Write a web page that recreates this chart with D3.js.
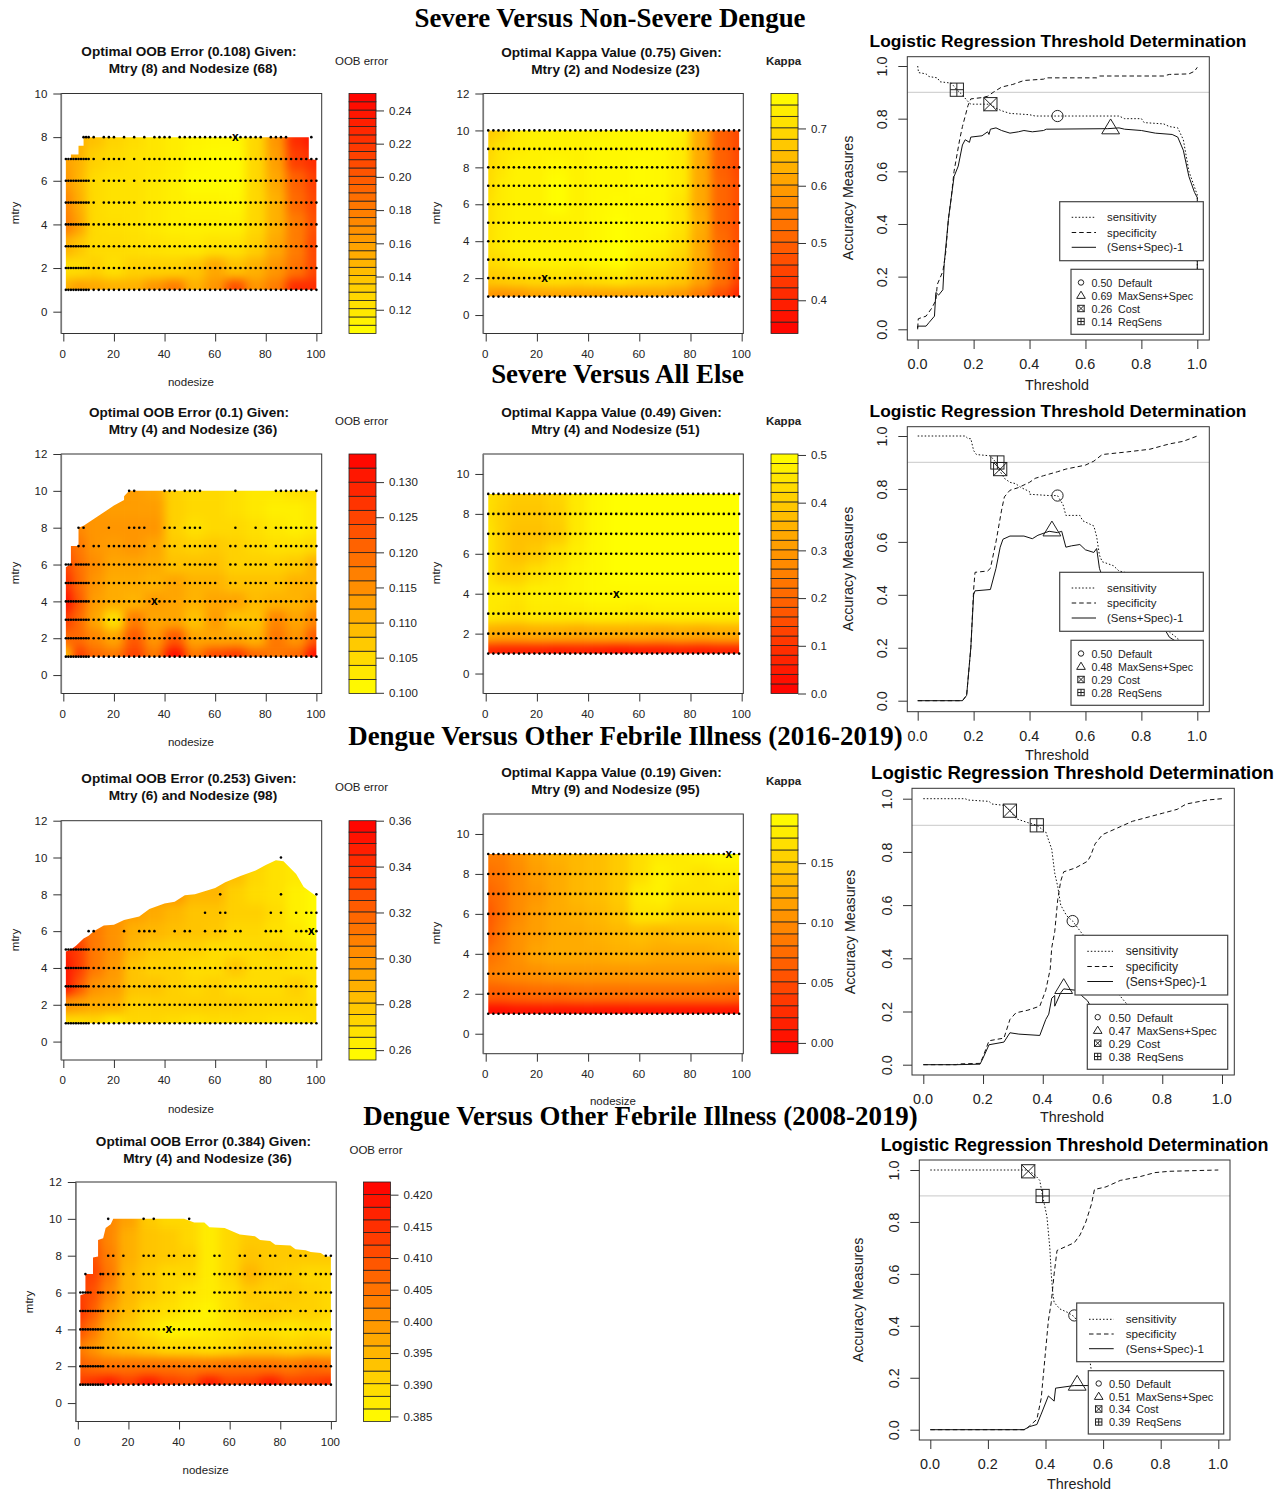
<!DOCTYPE html>
<html lang="en">
<head>
<meta charset="UTF-8">
<title>Threshold and tuning panels</title>
<script src="https://d3js.org/d3.v7.min.js"></script>
<style>
  html, body { margin: 0; padding: 0; background: #fff; }
  svg { display: block; }
  text { font-family: "Liberation Sans", Arial, sans-serif; fill: #222; }
  .heading { font-family: "Liberation Serif", "Times New Roman", serif; font-weight: bold; fill: #000; }
</style>
</head>
<body>
<div id="chart"></div>
<script>
// ---- data ----
// grid rows run from the highest mtry down to mtry 1
var knots = [1, 6, 12, 20, 28, 36, 44, 52, 60, 68, 76, 84, 92, 100];
var nodeAll = [1,2,3,4,5,6,7,8,9,10,12,14,16,18,20,22,24,26,28,30,32,34,36,38,40,42,44,46,48,50,52,54,56,58,60,62,64,66,68,70,72,74,76,78,80,82,84,86,88,90,92,94,96,98,100];
var nodeOdd = [1,3,5,7,9,11,13,15,17,19,21,23,25,27,29,31,33,35,37,39,41,43,45,47,49,51,53,55,57,59,61,63,65,67,69,71,73,75,77,79,81,83,85,87,89,91,93,95,97,99];
function without(list) { return nodeAll.filter(function(d) { return list.indexOf(d) < 0; }); }

var oobSevere = [
  [.150,.150,.140,.130,.125,.120,.116,.112,.110,.110,.128,.165,.225,.240],
  [.160,.150,.132,.126,.122,.120,.116,.110,.108,.108,.128,.160,.215,.225],
  [.165,.148,.126,.122,.122,.118,.115,.108,.108,.108,.128,.155,.195,.215],
  [.175,.152,.126,.122,.122,.118,.115,.112,.112,.110,.128,.150,.190,.210],
  [.180,.158,.126,.124,.122,.118,.115,.114,.114,.114,.128,.150,.180,.205],
  [.150,.138,.126,.126,.124,.122,.120,.118,.122,.122,.133,.155,.180,.210],
  [.125,.126,.132,.124,.132,.132,.132,.138,.155,.140,.150,.165,.185,.210],
  [.150,.160,.155,.150,.150,.165,.180,.150,.165,.205,.165,.180,.225,.225]];
var oobSevereEdge = [[1,1],[1,6.95],[3,6.95],[3,7.2],[6,7.2],[6,7.6],[8,7.6],[8,8],[97,8],[97,7],[100,6.95],[100,1]];
var oobSevereDots = [[8,9,10,12,16,18,20,24,28,32,36,38,40,42,46,48,50,52,54,56,58,60,62,64,66,68,70,72,74,76,78,82,84,86,88,98],
  without([14,26,30]), without([14,26,30]), without([14,30]), nodeAll, nodeAll, nodeAll, nodeAll];

var kappaSevere = [
  [.67,.69,.73,.74,.74,.74,.74,.75,.75,.75,.74,.62,.50,.46],
  [.69,.72,.73,.74,.74,.74,.75,.75,.75,.75,.73,.62,.50,.46],
  [.70,.72,.74,.74,.75,.74,.75,.75,.755,.75,.73,.62,.50,.46],
  [.70,.73,.74,.74,.76,.74,.75,.75,.755,.75,.73,.62,.51,.47],
  [.71,.73,.74,.74,.76,.74,.75,.755,.75,.75,.72,.62,.51,.47],
  [.71,.73,.74,.74,.74,.74,.75,.76,.75,.75,.72,.63,.51,.47],
  [.71,.73,.74,.74,.74,.74,.75,.76,.75,.74,.71,.62,.52,.47],
  [.70,.71,.73,.74,.74,.74,.75,.76,.73,.72,.69,.62,.53,.47],
  [.67,.68,.69,.70,.71,.70,.71,.72,.70,.69,.67,.61,.53,.45],
  [.59,.58,.59,.61,.61,.61,.61,.61,.61,.61,.59,.54,.47,.40]];

var oobAll = [
  [.114,.114,.114,.114,.113,.112,.106,.105,.105,.104,.103,.103,.104,.104],
  [.116,.116,.114,.113,.113,.113,.106,.105,.105,.104,.103,.102,.102,.103],
  [.118,.116,.114,.114,.114,.114,.106,.104,.105,.105,.104,.103,.102,.103],
  [.122,.118,.114,.113,.114,.112,.107,.106,.107,.106,.105,.104,.104,.105],
  [.125,.119,.115,.112,.112,.111,.108,.108,.108,.106,.106,.106,.107,.110],
  [.128,.120,.114,.111,.111,.110,.112,.110,.110,.108,.108,.108,.110,.110],
  [.132,.122,.113,.111,.110,.113,.112,.110,.112,.112,.109,.110,.110,.112],
  [.126,.120,.112,.104,.117,.112,.112,.108,.113,.108,.108,.116,.112,.116],
  [.120,.120,.116,.112,.122,.114,.122,.112,.112,.112,.110,.118,.114,.122],
  [.108,.126,.120,.118,.125,.118,.132,.118,.124,.126,.120,.118,.120,.132]];
var oobAllEdge = [[1,1],[1,5.85],[2,5.95],[3,6],[3,7],[6,7],[6,8],[8,8.1],[20,9.2],[24,9.5],[24,9.7],[26,10],[100,10],[100,1]];
var oobAllDots = [[26,28,40,42,44,48,50,52,54,68,84,86,88,90,92,94,96,100], [],
  [6,8,18,26,28,30,32,40,42,44,48,50,52,54,68,76,80,84,86,88,90,92,94,96,98,100],
  [6,8,12,14,18,20,22,24,26,28,30,32,36,40,42,44,48,50,52,54,56,58,60,66,68,72,74,76,78,80,84,86,88,90,92,94,96,98,100],
  without([4,46,62,64,70,82]), without([46,62,64,70,82]), without([46,70]), nodeAll, nodeAll, nodeAll];

var kappaAll = [
  [.44,.42,.40,.40,.42,.46,.49,.50,.50,.50,.50,.50,.50,.50],
  [.44,.41,.39,.39,.41,.46,.49,.50,.50,.50,.50,.50,.50,.50],
  [.45,.41,.38,.38,.40,.46,.49,.50,.50,.50,.50,.50,.50,.50],
  [.45,.41,.38,.40,.44,.47,.49,.50,.50,.50,.50,.50,.50,.50],
  [.45,.41,.41,.44,.46,.48,.49,.50,.50,.50,.50,.50,.50,.50],
  [.46,.46,.45,.47,.47,.48,.49,.49,.49,.49,.49,.49,.49,.49],
  [.46,.45,.44,.46,.46,.46,.47,.47,.46,.47,.47,.47,.47,.47],
  [.34,.33,.33,.34,.34,.33,.34,.34,.34,.33,.34,.33,.34,.34],
  [.07,.06,.06,.06,.05,.06,.05,.04,.05,.05,.06,.05,.06,.06]];

var oobFebrile16 = [
  [.290,.290,.290,.295,.290,.290,.290,.285,.285,.282,.275,.268,.265,.265],
  [.290,.290,.295,.295,.295,.292,.292,.288,.288,.282,.272,.268,.265,.262],
  [.300,.300,.300,.300,.300,.298,.298,.285,.285,.275,.270,.268,.262,.258],
  [.310,.310,.305,.300,.295,.290,.285,.280,.280,.275,.275,.270,.262,.258],
  [.330,.325,.310,.300,.288,.285,.282,.280,.278,.272,.272,.268,.265,.258],
  [.345,.335,.310,.300,.285,.278,.275,.275,.270,.270,.270,.272,.268,.265],
  [.352,.335,.310,.298,.280,.275,.275,.270,.270,.278,.270,.270,.268,.268],
  [.352,.325,.300,.295,.280,.280,.275,.272,.275,.270,.270,.270,.275,.268],
  [.300,.295,.290,.288,.275,.275,.275,.275,.275,.275,.272,.272,.272,.270],
  [.270,.270,.272,.265,.272,.272,.270,.268,.270,.270,.270,.268,.268,.270]];
var oobFebrile16Edge = [[1,1],[1,4.9],[3,5],[5,5.2],[8,5.6],[10,5.75],[12,6],[16,6.3],[20,6.35],[24,6.6],[30,6.8],[34,7.2],[40,7.5],[44,7.6],[48,7.95],[52,8],[60,8.35],[64,8.65],[70,9],[76,9.3],[80,9.6],[84,9.85],[87,9.8],[92,9.1],[95,8.4],[100,7.9],[100,1]];
var oobFebrile16Dots = [[86], [], [62,86,100], [56,62,64,82,86,92,96,98,100],
  [10,12,24,30,32,34,36,44,48,50,56,60,62,64,68,70,80,82,84,86,92,94,96,98,100],
  nodeAll, nodeAll, nodeAll, nodeAll, nodeAll];

var kappaFebrile16 = [
  [.090,.090,.105,.120,.130,.135,.140,.150,.165,.175,.175,.180,.185,.185],
  [.080,.085,.100,.115,.125,.135,.140,.150,.165,.180,.175,.170,.175,.175],
  [.070,.080,.100,.110,.125,.135,.140,.150,.175,.180,.170,.170,.170,.165],
  [.060,.080,.100,.115,.125,.130,.135,.145,.170,.170,.160,.160,.160,.165],
  [.065,.085,.105,.115,.125,.125,.130,.135,.140,.135,.140,.140,.140,.150],
  [.080,.090,.105,.120,.125,.125,.125,.130,.130,.125,.125,.125,.130,.135],
  [.090,.095,.100,.105,.110,.110,.110,.110,.110,.110,.110,.110,.105,.105],
  [.065,.065,.070,.075,.075,.080,.080,.080,.080,.080,.080,.080,.080,.075],
  [.000,.000,.005,.005,.005,.005,.005,.005,.005,.005,.005,.005,.005,.005]];

var oobFebrile08 = [
  [.405,.405,.402,.398,.392,.390,.390,.387,.390,.392,.392,.392,.392,.392],
  [.410,.408,.402,.396,.393,.392,.390,.387,.390,.392,.392,.392,.392,.392],
  [.412,.410,.403,.396,.393,.392,.391,.387,.390,.393,.392,.392,.392,.392],
  [.413,.412,.404,.395,.392,.390,.390,.387,.390,.395,.392,.391,.390,.390],
  [.413,.410,.402,.395,.392,.390,.388,.387,.389,.392,.391,.392,.391,.390],
  [.414,.408,.399,.394,.390,.389,.387,.386,.389,.391,.392,.391,.391,.390],
  [.410,.404,.396,.392,.389,.386,.386,.387,.388,.389,.389,.388,.389,.388],
  [.404,.400,.396,.394,.392,.390,.390,.389,.390,.392,.392,.391,.392,.392],
  [.408,.406,.405,.405,.405,.405,.404,.404,.405,.405,.405,.404,.406,.405],
  [.413,.415,.418,.413,.418,.413,.411,.418,.412,.413,.418,.412,.413,.415]];
var oobFebrile08Edge = [[1,1],[1,5.85],[3,5.95],[3,7],[6,7],[6,7.9],[8,7.95],[8,8.85],[10,8.95],[11,9.5],[13,9.7],[14,10],[42,10],[46,9.8],[50,9.8],[52,9.55],[58,9.5],[64,9.15],[70,9.05],[72,8.85],[76,8.8],[78,8.6],[84,8.55],[86,8.35],[90,8.3],[92,8.2],[96,8.15],[98,7.95],[100,7.95],[100,1]];
var oobFebrile08Dots = [[12,26,30,44], [], [12,14,18,26,28,30,36,38,42,44,46,54,56,64,66,72,76,78,84,88,90,98,100],
  [3,9,10,12,14,16,18,22,26,28,30,34,36,38,42,44,46,54,56,58,60,62,64,66,70,72,74,76,78,80,82,84,88,90,94,96,98,100],
  without([6,7,20,32,40,48,50,52,68,86,92]), without([20,34,50,86,92]), nodeAll, nodeAll, nodeAll, nodeAll];

// threshold curves as [threshold, value]
var sens1 = [[0,1],[.003,.975],[.03,.97],[.04,.96],[.07,.955],[.08,.94],[.12,.935],[.14,.91],[.155,.895],[.18,.865],[.19,.855],[.26,.855],[.28,.84],[.3,.83],[.33,.82],[.4,.815],[.42,.81],[.72,.81],[.74,.8],[.8,.8],[.81,.785],[.88,.78],[.9,.77],[.93,.765],[.95,.72],[.97,.6],[.99,.54],[1,.51],[1,0]];
var spec1 = [[0,.005],[.002,.04],[.03,.05],[.05,.08],[.065,.11],[.07,.17],[.09,.22],[.1,.29],[.11,.42],[.12,.5],[.13,.6],[.15,.72],[.16,.77],[.18,.85],[.19,.875],[.23,.88],[.25,.885],[.27,.9],[.3,.92],[.34,.93],[.38,.945],[.45,.95],[.46,.955],[.64,.955],[.65,.962],[.88,.962],[.9,.968],[.97,.97],[.99,.98],[1,.995]];
var youd1 = [[0,0],[0,.012],[.03,.012],[.04,.025],[.06,.05],[.065,.14],[.075,.13],[.09,.15],[.095,.25],[.11,.42],[.12,.5],[.13,.58],[.145,.62],[.16,.7],[.17,.72],[.185,.71],[.19,.73],[.23,.735],[.25,.75],[.255,.74],[.26,.76],[.28,.765],[.3,.755],[.33,.745],[.36,.75],[.38,.755],[.41,.75],[.45,.755],[.46,.76],[.68,.762],[.72,.765],[.74,.76],[.8,.755],[.85,.745],[.91,.74],[.93,.73],[.95,.68],[.97,.58],[.99,.52],[1,.5],[1,0]];
var marks1 = [[.5,.81],[.69,.765],[.26,.855],[.14,.91]];
var cuts1 = ["0.50","0.69","0.26","0.14"];

var sens2 = [[0,1],[.17,1],[.18,.99],[.19,.99],[.2,.945],[.21,.93],[.26,.925],[.28,.9],[.29,.875],[.31,.84],[.33,.825],[.35,.82],[.37,.805],[.4,.79],[.4,.78],[.47,.775],[.5,.775],[.52,.74],[.53,.7],[.58,.7],[.59,.68],[.63,.66],[.64,.62],[.65,.55],[.66,.525],[.7,.51],[.72,.49],[.76,.48],[.8,.44],[.85,.36],[.9,.26],[.93,.235],[1,0]];
var spec2 = [[0,0],[.16,0],[.175,.02],[.19,.2],[.2,.42],[.205,.485],[.25,.49],[.26,.5],[.28,.6],[.3,.72],[.31,.77],[.33,.795],[.36,.805],[.4,.825],[.42,.84],[.45,.85],[.5,.865],[.53,.875],[.6,.89],[.63,.905],[.66,.93],[.75,.94],[.83,.95],[.9,.97],[.95,.98],[1,1]];
var youd2 = [[0,0],[.16,0],[.175,.02],[.19,.2],[.2,.4],[.205,.415],[.26,.42],[.28,.5],[.295,.58],[.305,.61],[.33,.622],[.38,.622],[.41,.612],[.43,.625],[.47,.64],[.5,.635],[.515,.64],[.53,.58],[.55,.585],[.58,.59],[.6,.57],[.63,.56],[.64,.575],[.65,.5],[.66,.47],[.7,.45],[.75,.43],[.85,.33],[.9,.24],[.93,.22],[1,0]];
var marks2 = [[.5,.775],[.48,.645],[.295,.875],[.285,.9]];
var cuts2 = ["0.50","0.48","0.29","0.28"];

var sens3 = [[0,1],[.14,1],[.15,.995],[.22,.99],[.23,.98],[.27,.975],[.29,.955],[.31,.925],[.35,.91],[.38,.9],[.41,.875],[.43,.81],[.44,.72],[.45,.67],[.46,.6],[.48,.56],[.5,.54],[.53,.495],[.55,.47],[.6,.38],[.65,.27],[.68,.23],[.7,.19],[.8,.1],[1,0]];
var spec3 = [[0,0],[.11,0],[.12,.003],[.19,.005],[.2,.03],[.22,.09],[.27,.1],[.29,.17],[.31,.195],[.35,.205],[.39,.22],[.41,.28],[.425,.36],[.43,.44],[.44,.5],[.45,.62],[.46,.69],[.47,.725],[.51,.74],[.55,.765],[.56,.785],[.575,.83],[.6,.865],[.65,.89],[.7,.915],[.8,.945],[.85,.96],[.88,.98],[.95,.995],[1,1]];
var youd3 = [[0,0],[.11,0],[.19,.002],[.2,.025],[.22,.075],[.27,.085],[.29,.12],[.32,.115],[.39,.11],[.41,.17],[.42,.19],[.43,.25],[.44,.26],[.44,.22],[.46,.27],[.47,.285],[.51,.28],[.53,.26],[.55,.24],[.56,.22],[.65,.1],[.7,.05],[.8,.03],[1,0]];
var marks3 = [[.5,.54],[.47,.29],[.29,.955],[.38,.9]];
var cuts3 = ["0.50","0.47","0.29","0.38"];

var sens4 = [[0,1],[.33,1],[.36,.985],[.38,.96],[.39,.9],[.405,.82],[.415,.7],[.42,.6],[.425,.53],[.43,.49],[.45,.465],[.48,.45],[.5,.435],[.52,.4],[.55,.3],[.56,.22],[.58,.18],[.65,.1],[.8,.03],[1,0]];
var spec4 = [[0,0],[.33,0],[.345,.015],[.37,.04],[.385,.12],[.4,.3],[.41,.42],[.42,.49],[.43,.6],[.44,.69],[.5,.72],[.52,.75],[.54,.8],[.56,.87],[.57,.925],[.61,.935],[.66,.96],[.73,.975],[.78,.99],[.83,.995],[1,1]];
var youd4 = [[0,0],[.325,0],[.345,.012],[.37,.02],[.385,.06],[.41,.13],[.43,.11],[.435,.16],[.5,.17],[.56,.17],[.7,.1],[1,0]];
var marks4 = [[.5,.44],[.51,.175],[.34,.995],[.39,.9]];
var cuts4 = ["0.50","0.51","0.34","0.39"];

var cutNames = ["Default", "MaxSens+Spec", "Cost", "ReqSens"];
var curveNames = ["sensitivity", "specificity", "(Sens+Spec)-1"];
var headings = ["Severe Versus Non-Severe Dengue", "Severe Versus All Else", "Dengue Versus Other Febrile Illness (2016-2019)", "Dengue Versus Other Febrile Illness (2008-2019)"];
var nodeTicks = [0, 20, 40, 60, 80, 100];
var accTicks = [0, .2, .4, .6, .8, 1];

// ---- page ----
var svg = d3.select("#chart").append("svg").attr("width", 1286).attr("height", 1491);

svg.append("defs").append("filter").attr("id", "soften")
    .attr("filterUnits", "userSpaceOnUse")
    .attr("x", 0).attr("y", 0).attr("width", 1286).attr("height", 1491)
    .attr("color-interpolation-filters", "sRGB")
  .append("feGaussianBlur").attr("stdDeviation", "5 5");

var heatColor = d3.interpolateRgb("#ffff00", "#ff0000");
var clipCount = 0;

function heatPanel(p) {
  var x = d3.scaleLinear().domain(p.xDomain).range([p.left, p.right]);
  var y = d3.scaleLinear().domain(p.yDomain).range([p.bottom, p.top]);
  var g = svg.append("g");

  // red = worst, so kappa runs the other way round to OOB error
  var colorT = d3.scaleLinear().domain(p.goodLow ? p.legend : [p.legend[1], p.legend[0]]).range([0, 1]).clamp(true);

  clipCount++;
  var clipId = "edge" + clipCount;
  svg.select("defs").append("clipPath").attr("id", clipId)
    .append("polygon")
    .attr("points", p.edge.map(function(d) { return x(d[0]) + "," + y(d[1]); }).join(" "));

  var cells = [];
  p.values.forEach(function(row, r) {
    var m = p.values.length - r;
    row.forEach(function(v, c) {
      cells.push({
        x0: c == 0 ? knots[0] - 30 : (knots[c - 1] + knots[c]) / 2,
        x1: c == knots.length - 1 ? knots[c] + 30 : (knots[c] + knots[c + 1]) / 2,
        y0: m == 1 ? -2 : m - .5,
        y1: r == 0 ? m + 3 : m + .5,
        v: v
      });
    });
  });

  g.append("g").attr("clip-path", "url(#" + clipId + ")")
    .append("g").attr("filter", "url(#soften)")
    .selectAll("rect").data(cells).enter().append("rect")
      .attr("x", function(d) { return x(d.x0); })
      .attr("y", function(d) { return y(d.y1); })
      .attr("width", function(d) { return x(d.x1) - x(d.x0) + .5; })
      .attr("height", function(d) { return y(d.y0) - y(d.y1) + .5; })
      .attr("fill", function(d) { return heatColor(colorT(d.v)); });

  // sampled grid points
  p.dots.forEach(function(list, r) {
    var m = p.dots.length - r;
    g.append("g").selectAll("circle").data(list).enter().append("circle")
      .attr("cx", function(d) { return x(d); })
      .attr("cy", y(m))
      .attr("r", 1.3)
      .attr("fill", "#000");
  });

  g.append("text").attr("x", x(p.best[0])).attr("y", y(p.best[1]) + 4)
    .attr("text-anchor", "middle").style("font-size", "12px").style("font-weight", "bold").style("fill", "#000").text("x");

  // frame and axes
  g.append("rect").attr("x", p.left).attr("y", p.top).attr("width", p.right - p.left).attr("height", p.bottom - p.top)
    .attr("fill", "none").attr("stroke", "#333");
  g.append("line").attr("x1", p.left).attr("x2", p.left).attr("y1", p.top).attr("y2", p.bottom)
    .attr("stroke", "#777").attr("stroke-width", 1.6);

  var xAxis = g.append("g").attr("transform", "translate(0," + p.bottom + ")")
    .call(d3.axisBottom(x).tickValues(nodeTicks).tickSize(8).tickPadding(8));
  var yAxis = g.append("g").attr("transform", "translate(" + p.left + ",0)")
    .call(d3.axisLeft(y).tickValues(p.mtryTicks).tickFormat(d3.format("d")).tickSize(8).tickPadding(6));
  xAxis.selectAll("text").attr("dx", -1);
  [xAxis, yAxis].forEach(function(a) {
    a.select(".domain").remove();
    a.selectAll("text").style("font-size", "11.5px").style("font-family", '"Liberation Sans"');
    a.selectAll("line").attr("stroke", "#333");
  });

  // titles
  g.append("text").attr("x", p.titleX).attr("y", p.titleY + 1).attr("text-anchor", "middle")
    .style("font-size", "13.6px").style("font-weight", "bold").style("fill", "#111").text(p.title[0]);
  g.append("text").attr("x", p.titleX + 4).attr("y", p.titleY + 18).attr("text-anchor", "middle")
    .style("font-size", "13.6px").style("font-weight", "bold").style("fill", "#111").text(p.title[1]);
  if (p.xLabelY) {
    g.append("text").attr("x", p.xLabelX).attr("y", p.xLabelY).attr("text-anchor", "middle")
      .style("font-size", "11.5px").text("nodesize");
  }
  g.append("text").attr("transform", "translate(" + p.mtryX + "," + p.mtryY + ") rotate(-90)")
    .attr("text-anchor", "middle").style("font-size", "11.5px").text("mtry");

  // colour key
  var key = d3.scaleLinear().domain(p.legend).range([p.bottom, p.top]);
  var bands = d3.range(p.bands).map(function(i) {
    return { lo: p.legend[0] + (p.legend[1] - p.legend[0]) * i / p.bands, hi: p.legend[0] + (p.legend[1] - p.legend[0]) * (i + 1) / p.bands };
  });
  g.append("g").selectAll("rect").data(bands).enter().append("rect")
    .attr("x", p.keyX).attr("width", 27)
    .attr("y", function(d) { return key(d.hi); })
    .attr("height", function(d) { return key(d.lo) - key(d.hi); })
    .attr("fill", function(d) { return heatColor(colorT((d.lo + d.hi) / 2)); })
    .attr("stroke", "#222").attr("stroke-width", .8);
  var keyAxis = g.append("g").attr("transform", "translate(" + (p.keyX + 27) + ",0)")
    .call(d3.axisRight(key).tickValues(p.legendTicks).tickFormat(d3.format(p.legendFormat)).tickSize(8).tickPadding(5));
  keyAxis.select(".domain").remove();
  keyAxis.selectAll("text").style("font-size", "11.5px").style("font-family", '"Liberation Sans"');
  keyAxis.selectAll("line").attr("stroke", "#333");
  g.append("text").attr("x", p.keyX + 12.5).attr("y", p.keyTitleY).attr("text-anchor", "middle")
    .style("font-size", "11.5px").style("font-weight", p.goodLow ? "normal" : "bold").text(p.keyTitle);
}

function markerAt(g, kind, cx, cy, s) {
  var mark = g.append("g").attr("transform", "translate(" + cx + "," + cy + ")")
    .attr("fill", "none").attr("stroke", "#222").attr("stroke-width", 1);
  if (kind == 0) mark.append("circle").attr("r", s * .85);
  if (kind == 1) mark.append("path").attr("d", "M0," + (-1.35 * s) + "L" + (1.35 * s) + "," + (.9 * s) + "L" + (-1.35 * s) + "," + (.9 * s) + "Z");
  if (kind > 1) mark.append("rect").attr("x", -s).attr("y", -s).attr("width", 2 * s).attr("height", 2 * s);
  if (kind == 2) mark.append("path").attr("d", "M" + -s + "," + -s + "L" + s + "," + s + "M" + -s + "," + s + "L" + s + "," + -s);
  if (kind == 3) mark.append("path").attr("d", "M" + -s + ",0L" + s + ",0M0," + -s + "L0," + s);
}

function thresholdPanel(p) {
  var x = d3.scaleLinear().domain([0, 1]).range([p.x0, p.x1]);
  var y = d3.scaleLinear().domain([0, 1]).range([p.y0, p.y1]);
  var g = svg.append("g");
  var line = d3.line().x(function(d) { return x(d[0]); }).y(function(d) { return y(d[1]); });

  // reference line at 0.9
  g.append("line").attr("x1", p.left).attr("x2", p.right).attr("y1", y(.9)).attr("y2", y(.9))
    .attr("stroke", "#d3d3d3").attr("stroke-width", 1.2);

  var styles = [{ d: "1.5,2", c: p.sens }, { d: "4.5,3", c: p.spec }, { d: null, c: p.youd }];
  styles.forEach(function(s) {
    g.append("path").datum(s.c).attr("d", line).attr("fill", "none")
      .attr("stroke", "#111").attr("stroke-width", 1).attr("stroke-dasharray", s.d);
  });
  p.marks.forEach(function(m, i) {
    markerAt(g, i, x(m[0]), y(m[1]), 6.6);
  });

  g.append("rect").attr("x", p.left).attr("y", p.top).attr("width", p.right - p.left).attr("height", p.bottom - p.top)
    .attr("fill", "none").attr("stroke", "#333");

  var xAxis = g.append("g").attr("transform", "translate(0," + p.bottom + ")")
    .call(d3.axisBottom(x).tickValues(accTicks).tickFormat(d3.format(".1f")).tickSize(9).tickPadding(10));
  var yAxis = g.append("g").attr("transform", "translate(" + p.left + ",0)")
    .call(d3.axisLeft(y).tickValues(accTicks).tickFormat(d3.format(".1f")).tickSize(9));
  xAxis.selectAll("text").attr("dx", -.7);
  [xAxis, yAxis].forEach(function(a) {
    a.select(".domain").remove();
    a.selectAll("text").style("font-size", "14.4px").style("font-family", '"Liberation Sans"');
    a.selectAll("line").attr("stroke", "#333");
  });
  yAxis.selectAll("text")
    .attr("transform", "rotate(-90)").attr("text-anchor", "middle")
    .attr("x", 0).attr("y", -20.5).attr("dy", 0);

  g.append("text").attr("x", p.titleX).attr("y", p.titleY).attr("text-anchor", "middle")
    .style("font-size", p.titleSize + "px").style("font-weight", "bold").style("fill", "#000")
    .text("Logistic Regression Threshold Determination");
  g.append("text").attr("x", p.thX).attr("y", p.thY).attr("text-anchor", "middle")
    .style("font-size", "14.4px").text("Threshold");
  g.append("text").attr("transform", "translate(" + p.accX + "," + p.accY + ") rotate(-90)")
    .attr("text-anchor", "middle").style("font-size", "14.2px").text("Accuracy Measures");

  // the two legends sit on top of the curves
  var a = p.legA, b = p.legB;
  g.append("rect").attr("x", a.left).attr("y", a.top).attr("width", p.legRight - a.left).attr("height", a.bottom - a.top)
    .attr("fill", "#fff").attr("stroke", "#444").attr("stroke-width", 1.2);
  curveNames.forEach(function(name, i) {
    g.append("line").attr("x1", a.s0).attr("x2", a.s1).attr("y1", a.ys[i]).attr("y2", a.ys[i])
      .attr("stroke", "#111").attr("stroke-dasharray", styles[i].d);
    g.append("text").attr("x", a.tx).attr("y", a.ys[i] + 4).style("font-size", (p.legSize + .3) + "px").text(name);
  });
  g.append("rect").attr("x", b.left).attr("y", b.top).attr("width", p.legRight - b.left).attr("height", b.bottom - b.top)
    .attr("fill", "#fff").attr("stroke", "#444").attr("stroke-width", 1.2);
  cutNames.forEach(function(name, i) {
    markerAt(g, i, b.sx, b.ys[i] - .5, 3.2);
    g.append("text").attr("x", b.vx).attr("y", b.ys[i] + 3.8).style("font-size", (p.legSize - .4) + "px").text(p.cuts[i]);
    g.append("text").attr("x", b.nx).attr("y", b.ys[i] + 3.8).style("font-size", (p.legSize - .4) + "px").text(name);
  });
}

// ---- heat panels, left column then middle column ----
var oobFrame = { left: 61.3, right: 321.7, xDomain: [-.8, 102.1], keyX: 349, mtryX: 19, xLabelX: 191, titleX: 189, goodLow: true, keyTitle: "OOB error" };
var kappaFrame = { left: 483.3, right: 743.3, xDomain: [-.94, 100.63], keyX: 771, mtryX: 440, xLabelX: 613, titleX: 611.5, goodLow: false, keyTitle: "Kappa" };

var heatPanels = [
  Object.assign({}, oobFrame, { top: 93.5, bottom: 333.5, yDomain: [-1, 10], values: oobSevere, edge: oobSevereEdge, dots: oobSevereDots, best: [68, 8],
    mtryTicks: [0,2,4,6,8,10], title: ["Optimal OOB Error (0.108) Given:", "Mtry (8) and Nodesize (68)"], titleY: 55, xLabelY: 386, mtryY: 213, keyTitleY: 65,
    legend: [.1057, .2502], bands: 29, legendTicks: [.12,.14,.16,.18,.20,.22,.24], legendFormat: ".2f" }),
  Object.assign({}, kappaFrame, { top: 93.5, bottom: 333.5, yDomain: [-1, 12], values: kappaSevere, edge: [[1,1],[1,10],[99,10],[99,1]], dots: [nodeOdd,nodeOdd,nodeOdd,nodeOdd,nodeOdd,nodeOdd,nodeOdd,nodeOdd,nodeOdd,nodeOdd], best: [23, 2],
    mtryTicks: [0,2,4,6,8,10,12], title: ["Optimal Kappa Value (0.75) Given:", "Mtry (2) and Nodesize (23)"], titleY: 56, xLabelY: 0, mtryY: 213, keyTitleY: 65,
    legend: [.342, .761], bands: 21, legendTicks: [.4,.5,.6,.7], legendFormat: ".1f" }),
  Object.assign({}, oobFrame, { top: 454, bottom: 693.5, yDomain: [-1, 12], values: oobAll, edge: oobAllEdge, dots: oobAllDots, best: [36, 4],
    mtryTicks: [0,2,4,6,8,10,12], title: ["Optimal OOB Error (0.1) Given:", "Mtry (4) and Nodesize (36)"], titleY: 416, xLabelY: 746, mtryY: 573, keyTitleY: 425,
    legend: [.0999, .134], bands: 17, legendTicks: [.100,.105,.110,.115,.120,.125,.130], legendFormat: ".3f" }),
  Object.assign({}, kappaFrame, { top: 454, bottom: 693.5, yDomain: [-1, 11], values: kappaAll, edge: [[1,1],[1,9],[99,9],[99,1]], dots: [nodeOdd,nodeOdd,nodeOdd,nodeOdd,nodeOdd,nodeOdd,nodeOdd,nodeOdd,nodeOdd], best: [51, 4],
    mtryTicks: [0,2,4,6,8,10], title: ["Optimal Kappa Value (0.49) Given:", "Mtry (4) and Nodesize (51)"], titleY: 416, xLabelY: 0, mtryY: 573, keyTitleY: 425,
    legend: [0, .502], bands: 25, legendTicks: [0,.1,.2,.3,.4,.5], legendFormat: ".1f" }),
  Object.assign({}, oobFrame, { top: 820.7, bottom: 1060, yDomain: [-1, 12], values: oobFebrile16, edge: oobFebrile16Edge, dots: oobFebrile16Dots, best: [98, 6],
    mtryTicks: [0,2,4,6,8,10,12], title: ["Optimal OOB Error (0.253) Given:", "Mtry (6) and Nodesize (98)"], titleY: 782, xLabelY: 1113, mtryY: 940, keyTitleY: 791,
    legend: [.2557, .36], bands: 21, legendTicks: [.26,.28,.30,.32,.34,.36], legendFormat: ".2f" }),
  Object.assign({}, kappaFrame, { top: 814, bottom: 1053.7, yDomain: [-1, 11], values: kappaFebrile16, edge: [[1,1],[1,9],[99,9],[99,1]], dots: [nodeOdd,nodeOdd,nodeOdd,nodeOdd,nodeOdd,nodeOdd,nodeOdd,nodeOdd,nodeOdd], best: [95, 9],
    mtryTicks: [0,2,4,6,8,10], title: ["Optimal Kappa Value (0.19) Given:", "Mtry (9) and Nodesize (95)"], titleY: 776, xLabelY: 1105, mtryY: 933, keyTitleY: 785,
    legend: [-.009, .191], bands: 20, legendTicks: [0,.05,.10,.15], legendFormat: ".2f" }),
  Object.assign({}, oobFrame, { left: 75.8, right: 336.2, keyX: 363.5, mtryX: 33, xLabelX: 205.6, titleX: 203.5, top: 1182, bottom: 1421.5, yDomain: [-1, 12], values: oobFebrile08, edge: oobFebrile08Edge, dots: oobFebrile08Dots, best: [36, 4],
    mtryTicks: [0,2,4,6,8,10,12], title: ["Optimal OOB Error (0.384) Given:", "Mtry (4) and Nodesize (36)"], titleY: 1145, xLabelY: 1474, mtryY: 1302, keyTitleY: 1154,
    legend: [.3842, .422], bands: 19, legendTicks: [.385,.390,.395,.400,.405,.410,.415,.420], legendFormat: ".3f" })
];
heatPanels.forEach(heatPanel);

// ---- threshold panels, right column ----
var thresholdPanels = [
  { left: 907.3, right: 1209.3, top: 56.7, bottom: 340, x0: 917.7, x1: 1197.3, y0: 329.3, y1: 66,
    sens: sens1, spec: spec1, youd: youd1, marks: marks1, cuts: cuts1,
    titleX: 1058, titleY: 47, titleSize: 17.4, thX: 1057, thY: 390, accX: 853, accY: 198, legSize: 11.1, legRight: 1203.3,
    legA: { left: 1059.7, top: 201.7, bottom: 260.7, s0: 1071.7, s1: 1096, tx: 1107, ys: [217.3, 232.5, 247.3] },
    legB: { left: 1071, top: 269.3, bottom: 334.3, sx: 1081, vx: 1091.5, nx: 1118, ys: [283, 296, 309, 322] } },
  { left: 907.3, right: 1209.3, top: 426.7, bottom: 711.7, x0: 917.7, x1: 1197.3, y0: 700.7, y1: 436,
    sens: sens2, spec: spec2, youd: youd2, marks: marks2, cuts: cuts2,
    titleX: 1058, titleY: 417, titleSize: 17.4, thX: 1057, thY: 760, accX: 853, accY: 569, legSize: 11.1, legRight: 1203.3,
    legA: { left: 1059.7, top: 572.3, bottom: 631.3, s0: 1071.7, s1: 1096, tx: 1107, ys: [588, 603, 618] },
    legB: { left: 1071, top: 640.3, bottom: 705.3, sx: 1081, vx: 1091.5, nx: 1118, ys: [654, 667, 680, 693] } },
  { left: 912, right: 1234.3, top: 788.3, bottom: 1075, x0: 923.3, x1: 1222, y0: 1064.7, y1: 798.7,
    sens: sens3, spec: spec3, youd: youd3, marks: marks3, cuts: cuts3,
    titleX: 1072.5, titleY: 779, titleSize: 18.6, thX: 1072, thY: 1122, accX: 855, accY: 932, legSize: 11.8, legRight: 1227.7,
    legA: { left: 1075, top: 935.3, bottom: 995, s0: 1087.3, s1: 1113, tx: 1125.7, ys: [951.3, 966.5, 981.5] },
    legB: { left: 1087.3, top: 1004.3, bottom: 1069.3, sx: 1097.7, vx: 1108.7, nx: 1136.7, ys: [1017.7, 1031, 1043.7, 1057] } },
  { left: 919.3, right: 1230, top: 1160, bottom: 1440, x0: 930.3, x1: 1218.3, y0: 1429.7, y1: 1170,
    sens: sens4, spec: spec4, youd: youd4, marks: marks4, cuts: cuts4,
    titleX: 1074.5, titleY: 1151, titleSize: 17.9, thX: 1079, thY: 1489, accX: 863, accY: 1300, legSize: 11.4, legRight: 1223.7,
    legA: { left: 1076.7, top: 1303, bottom: 1361.7, s0: 1089, s1: 1113.7, tx: 1125.7, ys: [1319.3, 1334, 1348.7] },
    legB: { left: 1088.3, top: 1370.7, bottom: 1434, sx: 1098.7, vx: 1109, nx: 1136, ys: [1384, 1397, 1409.5, 1422.5] } }
];
thresholdPanels.forEach(thresholdPanel);

// ---- row headings ----
var headingX = [610, 617.5, 625.5, 640.5];
var headingY = [27, 383, 745, 1125];
svg.selectAll("text.heading").data(headings).enter().append("text")
  .attr("class", "heading")
  .attr("x", function(d, i) { return headingX[i]; })
  .attr("y", function(d, i) { return headingY[i]; })
  .attr("text-anchor", "middle")
  .style("font-size", "26.9px")
  .text(function(d) { return d; });
</script>
</body>
</html>
